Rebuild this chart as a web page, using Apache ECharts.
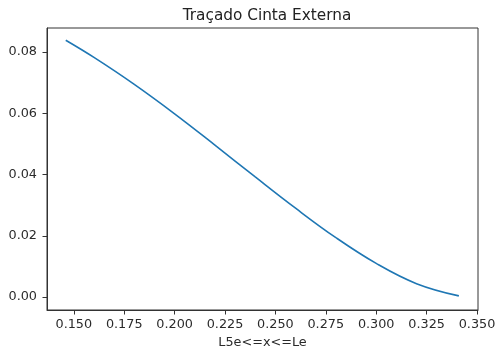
<!DOCTYPE html>
<html>
<head>
<meta charset="utf-8">
<script src="https://cdn.jsdelivr.net/npm/echarts@6/dist/echarts.min.js"></script>
<style>html,body{margin:0;padding:0;background:#fff}#c{width:499px;height:356px}</style>
</head>
<body>
<div id="c"></div>
<script>
const xValues = [0.146, 0.160, 0.180, 0.200, 0.220, 0.240, 0.260, 0.280, 0.300, 0.320, 0.341];
const yValues = [0.0838, 0.0782, 0.0694, 0.0598, 0.0496, 0.0392, 0.0290, 0.0194, 0.0110, 0.0044, 0.0004];
const xTicks = [0.150, 0.175, 0.200, 0.225, 0.250, 0.275, 0.300, 0.325, 0.350];
const yTicks = [0.00, 0.02, 0.04, 0.06, 0.08];
const titleText = 'Traçado Cinta Externa';
const xLabel = 'L5e<=x<=Le';

const chart = echarts.init(document.getElementById('c'), null, {renderer: 'canvas'});
const font = 'DejaVu Sans';
const txt = '#2a2a2a';
chart.setOption({
  animation: false,
  title: {text: titleText, left: 262, top: 4, textAlign: 'center',
    textStyle: {fontFamily: font, fontSize: 15.3, fontWeight: 'normal', color: '#222'}},
  grid: {left: 47, top: 28, right: 21, bottom: 46, show: true, borderColor: '#333', borderWidth: 1},
  xAxis: {
    type: 'value', min: 0.1367, max: 0.3505,
    name: xLabel, nameLocation: 'middle', nameGap: 26,
    nameTextStyle: {fontFamily: font, fontSize: 12.8, color: txt},
    axisLine: {show: true, onZero: false, lineStyle: {color: '#333', width: 1}},
    axisTick: {show: true, length: 4.5, customValues: xTicks, lineStyle: {color: '#333'}},
    axisLabel: {customValues: xTicks, margin: 8, fontFamily: font, fontSize: 12.8, color: txt,
      formatter: v => v.toFixed(3)},
    splitLine: {show: false}
  },
  yAxis: {
    type: 'value', min: -0.0042, max: 0.0878,
    axisLine: {show: true, onZero: false, lineStyle: {color: '#333', width: 1}},
    axisTick: {show: true, length: 4.5, customValues: yTicks, lineStyle: {color: '#333'}},
    axisLabel: {customValues: yTicks, margin: 10, fontFamily: font, fontSize: 12.8, color: txt,
      formatter: v => v.toFixed(2)},
    splitLine: {show: false}
  },
  series: [{
    type: 'line', data: xValues.map((x, i) => [x, yValues[i]]),
    smooth: 0.4, showSymbol: false, symbol: 'none',
    lineStyle: {color: '#1f77b4', width: 1.6}
  }]
});
</script>
</body>
</html>
